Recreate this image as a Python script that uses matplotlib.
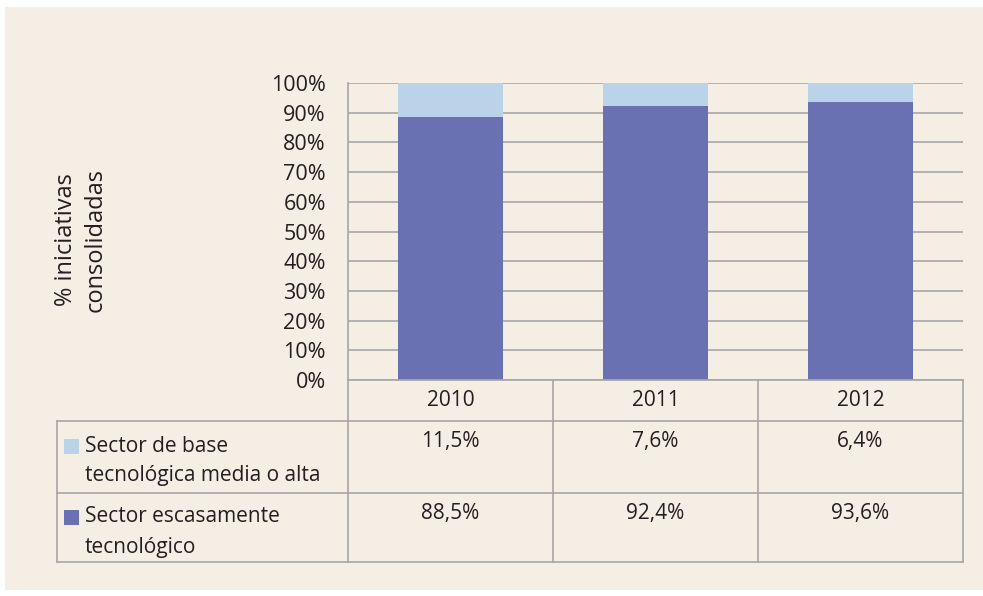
import matplotlib
matplotlib.use("Agg")
from matplotlib import pyplot as plt
import matplotlib.patches as mpatches

years = ["2010", "2011", "2012"]
alta = [11.5, 7.6, 6.4]
escasa = [88.5, 92.4, 93.6]
alta_labels = ["11,5%", "7,6%", "6,4%"]
escasa_labels = ["88,5%", "92,4%", "93,6%"]
series_names = [["Sector de base", "tecnológica media o alta"],
                ["Sector escasamente", "tecnológico"]]
yticks = list(range(0, 101, 10))

bg = "#F5EEE4"
c_light = "#BBD3E9"
c_dark = "#6A71B2"
grid_c = "#A6A6A6"
text_c = "#231F20"

plt.rcParams['font.family'] = ['Open Sans', 'DejaVu Sans']
W, H = 983, 596
fig = plt.figure(figsize=(W / 100, H / 100), dpi=100)
fig.patch.set_facecolor("white")
fig.patches.append(mpatches.Rectangle((5 / W, (H - 590) / H), 1, (590 - 7) / H,
                                      transform=fig.transFigure, facecolor=bg,
                                      edgecolor="none", zorder=-10))

# bar axes, pixel box 348..963 x 83..380
L, R, T, B = 348, 963, 83, 380
ax = fig.add_axes([L / W, (H - B) / H, (R - L) / W, (B - T) / H])
ax.set_facecolor("none")
x = list(range(len(years)))
ax.bar(x, escasa, width=0.51, color=c_dark, zorder=3)
ax.bar(x, alta, width=0.51, bottom=escasa, color=c_light, zorder=3)
ax.set_xlim(-0.5, 2.5)
ax.set_ylim(0, 100)
ax.set_yticks(yticks)
ax.set_yticklabels([f"{v}%" for v in yticks], fontsize=15.5, color=text_c)
ax.tick_params(axis="y", length=0, pad=16)
ax.set_xticks([])
ax.yaxis.grid(True, color=grid_c, linewidth=1.2, zorder=0)
for s in ["top", "right", "bottom"]:
    ax.spines[s].set_visible(False)
ax.spines["left"].set_color(grid_c)
ax.spines["left"].set_linewidth(1.2)

fig.text(81 / W, (H - 240) / H, "% iniciativas\nconsolidadas", rotation=90,
         ha="center", va="center", multialignment="center", fontsize=17,
         color=text_c, linespacing=1.3)

# table axes, pixel box 57..963 x 380..562; x in category units
TL, TB = 57, 562
tx0 = -0.5 - 3 * (L - TL) / (R - L)
tax = fig.add_axes([TL / W, (H - TB) / H, (R - TL) / W, (TB - B) / H])
tax.set_xlim(tx0, 2.5)
tax.set_ylim(TB, B)
tax.axis("off")
rows = [380, 421, 493, 562]
lk = dict(color=grid_c, linewidth=1.2, clip_on=False)
tax.plot([-0.5, 2.5], [rows[0], rows[0]], **lk)
for r in rows[1:]:
    tax.plot([tx0, 2.5], [r, r], **lk)
for xb in [-0.5, 0.5, 1.5, 2.5]:
    tax.plot([xb, xb], [rows[0], rows[3]], **lk)
tax.plot([tx0, tx0], [rows[1], rows[3]], **lk)

tk = dict(fontsize=15, color=text_c, ha="center", va="center")
for i, yr in enumerate(years):
    tax.text(i, 401, yr, **tk)
    tax.text(i, 442, alta_labels[i], **tk)
    tax.text(i, 513, escasa_labels[i], **tk)

px = (2.5 - tx0) / (R - TL)
for (y0, names, col) in [(439, series_names[0], c_light), (510, series_names[1], c_dark)]:
    tax.add_patch(mpatches.Rectangle((tx0 + 7 * px, y0), 15 * px, 15,
                                     facecolor=col, edgecolor="none"))
    for k, line in enumerate(names):
        tax.text(tx0 + 28 * px, y0 + 7 + 30 * k, line, fontsize=15, color=text_c,
                 ha="left", va="center")

fig.savefig("out.png", dpi=100, facecolor=fig.get_facecolor())
